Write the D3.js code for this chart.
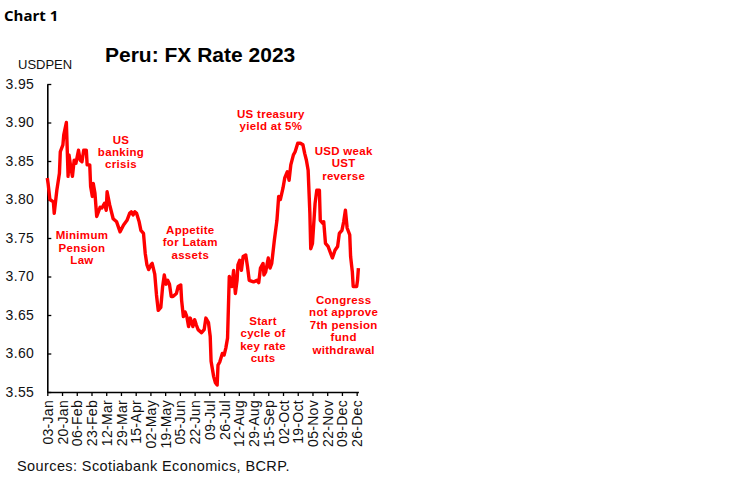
<!DOCTYPE html>
<html>
<head>
<meta charset="utf-8">
<script src="https://cdn.jsdelivr.net/npm/d3@7"></script>
<style>
  html, body { margin: 0; padding: 0; background: #fff; }
  svg { display: block; }
</style>
</head>
<body>
<svg id="chart" width="748" height="483"></svg>
<script>
// ---- data ----
const dates = [
  "2023-01-03","2023-01-04","2023-01-06","2023-01-10","2023-01-11","2023-01-14","2023-01-17","2023-01-18",
  "2023-01-21","2023-01-22","2023-01-25","2023-01-27","2023-01-28","2023-01-30","2023-02-01","2023-02-03",
  "2023-02-05","2023-02-08","2023-02-10","2023-02-12","2023-02-14","2023-02-17","2023-02-18","2023-02-21",
  "2023-02-22","2023-02-24","2023-02-25","2023-02-27","2023-03-01","2023-03-05","2023-03-07","2023-03-10",
  "2023-03-12","2023-03-13","2023-03-16","2023-03-20","2023-03-24","2023-03-28","2023-04-01","2023-04-05",
  "2023-04-08","2023-04-10","2023-04-12","2023-04-14","2023-04-16","2023-04-19","2023-04-21","2023-04-24",
  "2023-04-26","2023-04-28","2023-04-30","2023-05-03","2023-05-04","2023-05-07","2023-05-09","2023-05-11",
  "2023-05-14","2023-05-16","2023-05-18","2023-05-20","2023-05-22","2023-05-24","2023-05-26","2023-05-28",
  "2023-06-01","2023-06-03","2023-06-06","2023-06-07","2023-06-09","2023-06-11","2023-06-13","2023-06-15",
  "2023-06-17","2023-06-20","2023-06-22","2023-06-24","2023-06-26","2023-06-30","2023-07-03","2023-07-05",
  "2023-07-08","2023-07-10","2023-07-11","2023-07-14","2023-07-16","2023-07-18","2023-07-19","2023-07-21",
  "2023-07-24","2023-07-26","2023-07-28","2023-07-30","2023-08-01","2023-08-04","2023-08-06","2023-08-08",
  "2023-08-10","2023-08-11","2023-08-13","2023-08-15","2023-08-17","2023-08-20","2023-08-22","2023-08-24",
  "2023-08-29","2023-09-02","2023-09-04","2023-09-06","2023-09-09","2023-09-10","2023-09-12","2023-09-15",
  "2023-09-17","2023-09-19","2023-09-22","2023-09-25","2023-09-27","2023-09-29","2023-10-02","2023-10-04",
  "2023-10-07","2023-10-09","2023-10-11","2023-10-14","2023-10-16","2023-10-19","2023-10-22","2023-10-25",
  "2023-10-27","2023-10-29","2023-10-31","2023-11-02","2023-11-03","2023-11-05","2023-11-08","2023-11-10",
  "2023-11-13","2023-11-14","2023-11-17","2023-11-18","2023-11-20","2023-11-23","2023-11-26","2023-11-28",
  "2023-12-01","2023-12-04","2023-12-06","2023-12-09","2023-12-11","2023-12-13","2023-12-15","2023-12-18",
  "2023-12-19","2023-12-21","2023-12-22","2023-12-24","2023-12-26","2023-12-27","2023-12-28"
];
const usdpen = [
  3.828,3.820,3.800,3.797,3.782,3.812,3.834,3.862,
  3.871,3.884,3.900,3.830,3.858,3.843,3.830,3.851,
  3.847,3.864,3.851,3.849,3.864,3.864,3.845,3.845,
  3.817,3.804,3.821,3.808,3.778,3.790,3.789,3.795,
  3.786,3.810,3.793,3.775,3.771,3.758,3.767,3.773,
  3.782,3.784,3.780,3.784,3.782,3.771,3.760,3.756,
  3.730,3.715,3.709,3.716,3.717,3.703,3.676,3.656,
  3.660,3.686,3.702,3.690,3.695,3.690,3.674,3.674,
  3.678,3.687,3.689,3.669,3.648,3.654,3.648,3.635,
  3.646,3.635,3.644,3.637,3.631,3.627,3.631,3.646,
  3.640,3.622,3.590,3.570,3.562,3.559,3.585,3.589,
  3.600,3.598,3.607,3.620,3.700,3.687,3.708,3.678,
  3.695,3.715,3.721,3.708,3.726,3.728,3.713,3.695,
  3.693,3.695,3.692,3.711,3.717,3.702,3.706,3.724,
  3.711,3.717,3.747,3.773,3.804,3.800,3.815,3.828,
  3.836,3.825,3.845,3.858,3.862,3.873,3.873,3.871,
  3.860,3.851,3.838,3.782,3.736,3.743,3.795,3.812,
  3.812,3.773,3.769,3.771,3.743,3.739,3.730,3.724,
  3.734,3.739,3.756,3.760,3.771,3.786,3.763,3.754,
  3.726,3.706,3.687,3.687,3.687,3.695,3.711
];
const yTickValues = [3.55,3.60,3.65,3.70,3.75,3.80,3.85,3.90,3.95];
const yTickLabels = ["3.55","3.60","3.65","3.70","3.75","3.80","3.85","3.90","3.95"];
const xTickDates = ["2023-01-03","2023-01-20","2023-02-06","2023-02-23","2023-03-12","2023-03-29",
  "2023-04-15","2023-05-02","2023-05-19","2023-06-05","2023-06-22","2023-07-09","2023-07-26",
  "2023-08-12","2023-08-29","2023-09-15","2023-10-02","2023-10-19","2023-11-05","2023-11-22",
  "2023-12-09","2023-12-26"];
const xTickLabels = ["03-Jan","20-Jan","06-Feb","23-Feb","12-Mar","29-Mar","15-Apr","02-May","19-May",
  "05-Jun","22-Jun","09-Jul","26-Jul","12-Aug","29-Aug","15-Sep","02-Oct","19-Oct","05-Nov","22-Nov",
  "09-Dec","26-Dec"];
const annotations = [
  { lines: ["US","banking","crisis"], date: "2023-03-29", value: 3.8727 },
  { lines: ["Minimum","Pension","Law"], date: "2023-02-12", value: 3.7483 },
  { lines: ["Appetite","for Latam","assets"], date: "2023-06-17", value: 3.7555 },
  { lines: ["US treasury","yield at 5%"], date: "2023-09-18", value: 3.9058 },
  { lines: ["USD weak","UST","reverse"], date: "2023-12-11", value: 3.8578 },
  { lines: ["Start","cycle of","key rate","cuts"], date: "2023-09-09", value: 3.637 },
  { lines: ["Congress","not approve","7th pension","fund","withdrawal"], date: "2023-12-11", value: 3.6643 }
];

// ---- drawing ----
const parse = d3.timeParse("%Y-%m-%d");
const data = dates.map((d, i) => ({ date: parse(d), value: usdpen[i] }));
const svg = d3.select("#chart");

const x = d3.scaleTime()
  .domain([parse("2023-01-03"), parse("2023-12-28")])
  .range([47.3, 358.4]);
const y = d3.scaleLinear().domain([3.55, 3.95]).range([392, 84]);

// title texts
svg.append("text").attr("x", 4).attr("y", 21)
  .attr("font-family", "'Open Sans', Lato, sans-serif").attr("font-weight", "bold")
  .attr("font-size", 15).attr("fill", "#000").text("Chart 1");
svg.append("text").attr("x", 105).attr("y", 62)
  .attr("font-family", "Liberation Sans, Arial, sans-serif").attr("font-weight", "bold")
  .attr("font-size", 21).attr("fill", "#000").text("Peru: FX Rate 2023");
svg.append("text").attr("x", 18).attr("y", 69)
  .attr("font-family", "Liberation Sans, Arial, sans-serif")
  .attr("font-size", 13).attr("fill", "#111").text("USDPEN");

// y axis
const yAxis = d3.axisLeft(y)
  .tickValues(yTickValues)
  .tickFormat((d, i) => yTickLabels[i])
  .tickSizeInner(-4).tickSizeOuter(0).tickPadding(13);
const gy = svg.append("g").attr("transform", "translate(47.3,0)").call(yAxis);
gy.select(".domain").attr("stroke", "#000").attr("stroke-width", 1.6);
gy.selectAll(".tick line").attr("stroke", "#000").attr("stroke-width", 1.3);
gy.selectAll(".tick text")
  .attr("font-family", "Liberation Sans, Arial, sans-serif")
  .attr("font-size", 14).attr("letter-spacing", 0.4).attr("fill", "#111");

// x axis
const xAxis = d3.axisBottom(x)
  .tickValues(xTickDates.map(parse))
  .tickFormat((d, i) => xTickLabels[i])
  .tickSizeInner(4).tickSizeOuter(0);
const gx = svg.append("g").attr("transform", "translate(0,392)").call(xAxis);
gx.select(".domain").attr("stroke", "#000").attr("stroke-width", 1.6);
gx.selectAll(".tick line").attr("stroke", "#000").attr("stroke-width", 1.3);
gx.selectAll(".tick text")
  .attr("font-family", "Liberation Sans, Arial, sans-serif")
  .attr("font-size", 14).attr("letter-spacing", 0.3).attr("fill", "#111")
  .attr("transform", "rotate(-90)")
  .attr("text-anchor", "end")
  .attr("x", -8).attr("y", 0).attr("dy", "0.36em");

// line
const line = d3.line().x(d => x(d.date)).y(d => y(d.value));
svg.append("path").datum(data)
  .attr("fill", "none").attr("stroke", "#ff0000").attr("stroke-width", 3.4)
  .attr("stroke-linejoin", "round").attr("stroke-linecap", "butt")
  .attr("d", line);

// annotations
annotations.forEach(a => {
  const t = svg.append("text")
    .attr("font-family", "Liberation Sans, Arial, sans-serif").attr("font-weight", "bold")
    .attr("font-size", 11.5).attr("letter-spacing", 0.3).attr("fill", "#ff0000")
    .attr("text-anchor", "middle");
  a.lines.forEach((l, i) => {
    t.append("tspan").attr("x", x(parse(a.date))).attr("y", y(a.value) + i * 12.4).text(l);
  });
});

// source
svg.append("text").attr("x", 17).attr("y", 471)
  .attr("font-family", "Liberation Sans, Arial, sans-serif")
  .attr("font-size", 14.5).attr("letter-spacing", 0.4).attr("fill", "#111")
  .text("Sources: Scotiabank Economics, BCRP.");
</script>
</body>
</html>
